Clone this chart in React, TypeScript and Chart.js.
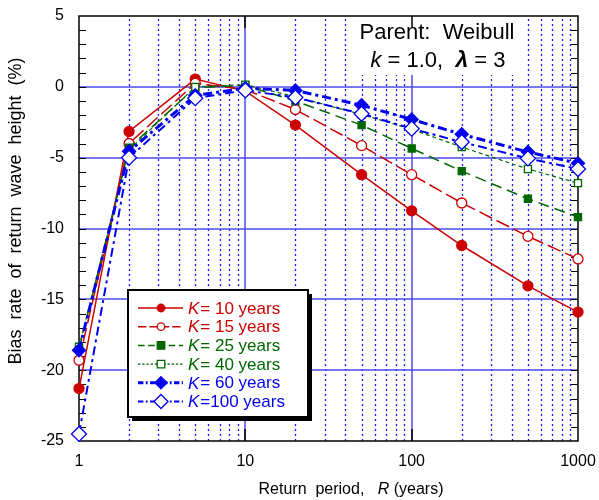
import React, { useEffect, useRef } from "react";
import { Chart, registerables } from "chart.js";

Chart.register(...registerables);

// Return periods R (years)
const periods = [1, 2, 5, 10, 20, 50, 100, 200, 500, 1000];

// Bias rate of return wave height (%) for each record length K
const biasK10 = [-21.3, -3.15, 0.55, -0.3, -2.7, -6.2, -8.75, -11.2, -14.05, -15.9];
const biasK15 = [-19.3, -4.0, 0.25, -0.2, -1.6, -4.15, -6.2, -8.2, -10.55, -12.15];
const biasK25 = [-18.5, -4.3, -0.05, 0.1, -1.0, -2.7, -4.35, -5.95, -7.9, -9.2];
const biasK40 = [-18.35, -4.45, 0.0, 0.15, -0.7, -1.95, -3.0, -4.25, -5.8, -6.8];
const biasK60 = [-18.6, -4.55, -0.6, -0.1, -0.25, -1.3, -2.3, -3.35, -4.6, -5.4];
const biasK100 = [-24.5, -5.0, -0.8, -0.25, -0.75, -1.9, -2.95, -3.9, -5.05, -5.8];

const legendTexts = ["= 10 years", "= 15 years", "= 25 years", "= 40 years", "= 60 years", "=100 years"];

const xTickValues = [1, 10, 100, 1000];
const yMin = -25;
const yMax = 5;

const yTitle = "Bias  rate  of  return  wave  height  (%)";

const FONT = '"Liberation Sans", Arial, Helvetica, sans-serif';
const RED = "#cc0000";
const GREEN = "#006600";
const BLUE = "#0000ee";
const GRID_BLUE = "#4b4bf5";

type Series = {
  data: number[];
  color: string;
  dash: number[];
  width: number;
  style: string;
  filled: boolean;
  radius: number;
};

const series: Series[] = [
  { data: biasK10, color: RED, dash: [], width: 1.5, style: "circle", filled: true, radius: 5 },
  { data: biasK15, color: RED, dash: [14, 5], width: 1.5, style: "circle", filled: false, radius: 5 },
  { data: biasK25, color: GREEN, dash: [11, 6], width: 1.5, style: "rect", filled: true, radius: 5 },
  { data: biasK40, color: GREEN, dash: [4, 3], width: 1.2, style: "rect", filled: false, radius: 5 },
  { data: biasK60, color: BLUE, dash: [9, 4, 3, 4], width: 3, style: "rectRot", filled: true, radius: 6.5 },
  { data: biasK100, color: BLUE, dash: [9, 4, 3, 4], width: 2, style: "rectRot", filled: false, radius: 7.5 },
];

// Grid, frame, tick marks and the parameter note, drawn under the data
const backdropPlugin = {
  id: "backdrop",
  beforeDatasetsDraw(chart: any) {
    const { ctx, chartArea: a, scales } = chart;
    const xs = scales.x;
    const ys = scales.y;
    ctx.save();

    // minor vertical grid (dotted)
    ctx.strokeStyle = "#1a1aff";
    ctx.lineWidth = 1.3;
    ctx.setLineDash([2, 3]);
    for (let dec = 1; dec < 1000; dec *= 10) {
      for (let m = 2; m <= 9; m++) {
        const px = Math.round(xs.getPixelForValue(dec * m)) + 0.5;
        ctx.beginPath();
        ctx.moveTo(px, a.bottom);
        ctx.lineTo(px, a.top);
        ctx.stroke();
      }
    }
    ctx.setLineDash([]);

    // major grid
    ctx.strokeStyle = GRID_BLUE;
    ctx.lineWidth = 1.5;
    for (let v = yMax - 5; v > yMin; v -= 5) {
      const py = Math.round(ys.getPixelForValue(v));
      ctx.beginPath();
      ctx.moveTo(a.left, py);
      ctx.lineTo(a.right, py);
      ctx.stroke();
    }
    [10, 100].forEach((v) => {
      const px = Math.round(xs.getPixelForValue(v));
      ctx.beginPath();
      ctx.moveTo(px, a.bottom);
      ctx.lineTo(px, a.top);
      ctx.stroke();
    });

    // white panel behind the note
    ctx.fillStyle = "#ffffff";
    ctx.fillRect(350, a.top + 1, 170, 58);

    ctx.fillStyle = "#000000";
    ctx.textBaseline = "alphabetic";
    ctx.textAlign = "left";
    ctx.font = `22px ${FONT}`;
    const line1 = "Parent:  Weibull";
    const w1 = ctx.measureText(line1).width;
    ctx.fillText(line1, 437 - w1 / 2, 39);

    const parts: [string, string][] = [
      ["k", `italic 22px ${FONT}`],
      [" = 1.0,  ", `22px ${FONT}`],
      ["\u03bb", `italic bold 23px ${FONT}`],
      [" = 3", `22px ${FONT}`],
    ];
    let total = 0;
    parts.forEach(([t, f]) => {
      ctx.font = f;
      total += ctx.measureText(t).width;
    });
    let cx = 438 - total / 2;
    parts.forEach(([t, f]) => {
      ctx.font = f;
      ctx.fillText(t, cx, 67);
      cx += ctx.measureText(t).width;
    });

    // frame
    ctx.strokeStyle = "#000000";
    ctx.lineWidth = 1.5;
    ctx.strokeRect(a.left, a.top, a.right - a.left, a.bottom - a.top);

    // minor y ticks on both sides
    ctx.lineWidth = 1.2;
    for (let v = yMin + 1; v < yMax; v++) {
      const py = Math.round(ys.getPixelForValue(v)) + 0.5;
      ctx.beginPath();
      ctx.moveTo(a.left, py);
      ctx.lineTo(a.left + 7, py);
      ctx.moveTo(a.right, py);
      ctx.lineTo(a.right - 7, py);
      ctx.stroke();
    }
    // major x ticks top and bottom
    ctx.lineWidth = 1.5;
    [10, 100].forEach((v) => {
      const px = Math.round(xs.getPixelForValue(v));
      ctx.beginPath();
      ctx.moveTo(px, a.bottom);
      ctx.lineTo(px, a.bottom - 12);
      ctx.moveTo(px, a.top);
      ctx.lineTo(px, a.top + 12);
      ctx.stroke();
    });
    ctx.restore();
  },
};

// Boxed key with a drop shadow inside the plot, plus both axis titles
const keyPlugin = {
  id: "keyBox",
  afterDatasetsDraw(chart: any) {
    const { ctx } = chart;
    const left = 128;
    const top = 290;
    const w = 180;
    const h = 127;
    ctx.save();
    ctx.fillStyle = "#000000";
    ctx.fillRect(left + 4, top + 4, w, h);
    ctx.fillStyle = "#ffffff";
    ctx.fillRect(left, top, w, h);
    ctx.strokeStyle = "#000000";
    ctx.lineWidth = 2;
    ctx.strokeRect(left, top, w, h);

    series.forEach((s, i) => {
      const y = top + 18 + i * 18.7;
      ctx.strokeStyle = s.color;
      ctx.lineWidth = s.width;
      ctx.setLineDash(s.dash.length ? s.dash.map((d) => d * 0.6) : []);
      ctx.beginPath();
      ctx.moveTo(138, y);
      ctx.lineTo(183, y);
      ctx.stroke();
      ctx.setLineDash([]);
      const r = s.radius * 0.75;
      ctx.fillStyle = s.filled ? s.color : "#ffffff";
      ctx.lineWidth = 1.3;
      ctx.beginPath();
      const mx = 161;
      if (s.style === "circle") {
        ctx.arc(mx, y, r, 0, Math.PI * 2);
      } else if (s.style === "rect") {
        ctx.rect(mx - r, y - r, 2 * r, 2 * r);
      } else {
        const d = r * 1.25;
        ctx.moveTo(mx, y - d);
        ctx.lineTo(mx + d, y);
        ctx.lineTo(mx, y + d);
        ctx.lineTo(mx - d, y);
        ctx.closePath();
      }
      ctx.fill();
      ctx.stroke();

      ctx.fillStyle = s.color;
      ctx.textBaseline = "middle";
      ctx.textAlign = "left";
      ctx.font = `italic 17px ${FONT}`;
      ctx.fillText("K", 188, y + 1);
      const kw = ctx.measureText("K").width;
      ctx.font = `17px ${FONT}`;
      ctx.fillText(legendTexts[i], 188 + kw + 1, y + 1);
    });

    // axis titles
    ctx.fillStyle = "#000000";
    ctx.textBaseline = "alphabetic";
    const xParts: [string, string][] = [
      ["Return  period,   ", `16px ${FONT}`],
      ["R", `italic 16px ${FONT}`],
      [" (years)", `16px ${FONT}`],
    ];
    let tw = 0;
    xParts.forEach(([t, f]) => {
      ctx.font = f;
      tw += ctx.measureText(t).width;
    });
    let tx = 351 - tw / 2;
    xParts.forEach(([t, f]) => {
      ctx.font = f;
      ctx.textAlign = "left";
      ctx.fillText(t, tx, 494);
      tx += ctx.measureText(t).width;
    });

    ctx.translate(16, 211);
    ctx.rotate(-Math.PI / 2);
    ctx.font = `18px ${FONT}`;
    ctx.textAlign = "center";
    ctx.textBaseline = "middle";
    ctx.fillText(yTitle, 0, 0);
    ctx.restore();
  },
};

export default function App() {
  const canvasRef = useRef<HTMLCanvasElement | null>(null);

  useEffect(() => {
    const canvas = canvasRef.current;
    if (!canvas) return;

    const datasets = series.map((s, i) => ({
      label: `K ${legendTexts[i]}`,
      data: periods.map((p, j) => ({ x: p, y: s.data[j] })),
      borderColor: s.color,
      borderWidth: s.width,
      borderDash: s.dash,
      backgroundColor: s.filled ? s.color : "#ffffff",
      pointStyle: s.style,
      pointRadius: s.radius,
      pointBorderWidth: 1.3,
      pointBorderColor: s.color,
      pointBackgroundColor: s.filled ? s.color : "#ffffff",
      tension: 0,
      fill: false,
      clip: false,
      order: series.length - i,
    }));

    const chart = new Chart(canvas, {
      type: "line",
      data: { datasets },
      options: {
        animation: false,
        responsive: false,
        devicePixelRatio: 1,
        layout: { padding: { left: 0, top: 16, right: 21, bottom: 0 } },
        plugins: {
          legend: { display: false },
          tooltip: { enabled: false },
        },
        scales: {
          x: {
            type: "logarithmic",
            min: 1,
            max: 1000,
            afterBuildTicks: (scale: any) => {
              scale.ticks = xTickValues.map((v) => ({ value: v }));
            },
            afterFit: (scale: any) => {
              scale.height = 59;
              scale.paddingLeft = 0;
              scale.paddingRight = 0;
            },
            grid: { display: false, drawTicks: false },
            border: { display: false },
            ticks: {
              autoSkip: false,
              maxRotation: 0,
              padding: 11,
              color: "#000000",
              font: { family: FONT, size: 16 },
              callback: (v: any) => String(v),
            },
          },
          y: {
            type: "linear",
            min: yMin,
            max: yMax,
            afterFit: (scale: any) => {
              scale.width = 79;
              scale.paddingTop = 0;
              scale.paddingBottom = 0;
            },
            grid: { display: false, drawTicks: false },
            border: { display: false },
            ticks: {
              stepSize: 5,
              padding: 15,
              color: "#000000",
              font: { family: FONT, size: 16 },
            },
          },
        },
      },
      plugins: [backdropPlugin, keyPlugin],
    });

    return () => chart.destroy();
  }, []);

  return (
    <div style={{ position: "absolute", left: 0, top: 0, width: 599, height: 500, background: "#ffffff" }}>
      <canvas ref={canvasRef} width={599} height={500} />
    </div>
  );
}
